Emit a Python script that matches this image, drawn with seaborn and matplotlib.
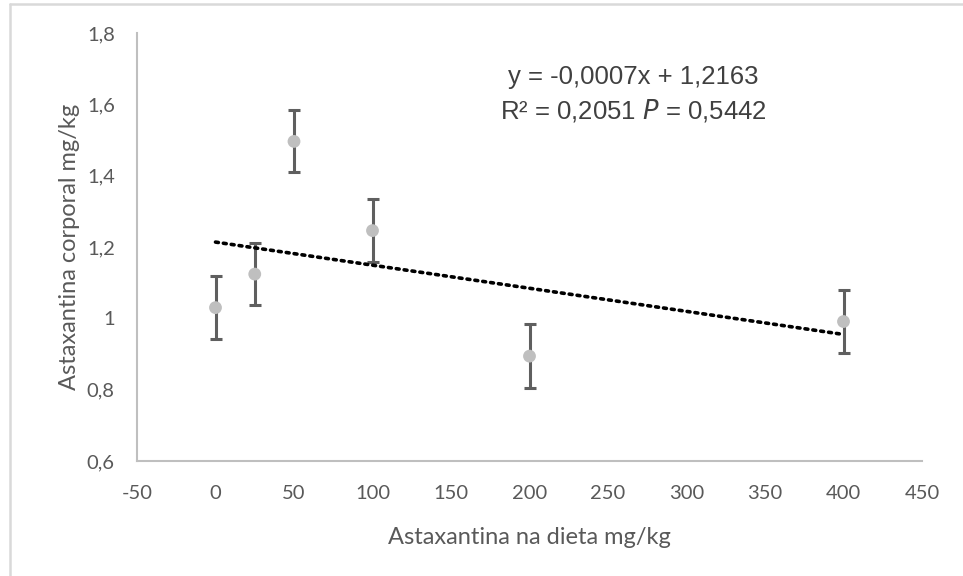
import numpy as np
import pandas as pd
import matplotlib
matplotlib.use("Agg")
import matplotlib.pyplot as plt
import seaborn as sns
from matplotlib.lines import Line2D

# data
dose = [0, 25, 50, 100, 200, 400]
astax = [1.03, 1.124, 1.496, 1.246, 0.894, 0.991]
err = [0.088, 0.087, 0.087, 0.088, 0.09, 0.088]
yticks = [0.6, 0.8, 1.0, 1.2, 1.4, 1.6, 1.8]
xticks = [-50, 0, 50, 100, 150, 200, 250, 300, 350, 400, 450]

data = pd.DataFrame({"dose": dose, "astax": astax, "err": err})

sns.set_style("white")
plt.rcParams["font.family"] = ["Lato", "DejaVu Sans"]

fig = plt.figure(figsize=(9.63, 5.76), dpi=100)
ax = fig.add_axes([137 / 963, 1 - 461 / 576, (922 - 137) / 963, (461 - 33) / 576])

ax.errorbar(data["dose"], data["astax"], yerr=data["err"], fmt="none",
            ecolor="#5f5f5f", elinewidth=2.2, capsize=4.3, capthick=2.2, zorder=2)
sns.scatterplot(data=data, x="dose", y="astax", color="#bfbfbf", s=85,
                edgecolor="none", ax=ax, zorder=3)

# linear trendline
slope, intercept = np.polyfit(data["dose"], data["astax"], 1)
xs = np.array([min(dose), max(dose)])
ax.plot(xs, slope * xs + intercept, color="black", linestyle=(0, (0.8, 1.4)),
        linewidth=2.6, dash_capstyle="round", zorder=4)

ax.set_xlim(-50, 450)
ax.set_ylim(0.6, 1.8)
ax.set_xticks(xticks)
ax.set_yticks(yticks)
ax.set_xticklabels([str(v) for v in xticks])
ax.set_yticklabels([f"{v:.1f}".replace(".", ",").replace(",0", "") for v in yticks])
ax.tick_params(axis="both", length=0, labelsize=14.5, colors="#595959")
ax.tick_params(axis="x", pad=17)
ax.tick_params(axis="y", pad=16)

for side in ["top", "right"]:
    ax.spines[side].set_visible(False)
for side in ["left", "bottom"]:
    ax.spines[side].set_color("#bfbfbf")
    ax.spines[side].set_linewidth(1.5)

ax.set_xlabel("Astaxantina na dieta mg/kg", fontsize=17, color="#595959", labelpad=18)
ax.set_ylabel("Astaxantina corporal mg/kg", fontsize=17, color="#595959", labelpad=5)

ax.text(0.658, 0.866, "y = -0,0007x + 1,2163", transform=fig.transFigure,
        ha="center", va="center", fontsize=18.5, color="#404040",
        family="Liberation Sans")
ax.text(0.658, 0.809, r"R² = 0,2051 $\it{P}$ = 0,5442", transform=fig.transFigure,
        ha="center", va="center", fontsize=18.5, color="#404040",
        family="Liberation Sans")

# outer chart frame
fig.add_artist(Line2D([10 / 963, 10 / 963], [0, 1 - 4 / 576], color="#d9d9d9", lw=1.8))
fig.add_artist(Line2D([10 / 963, 1], [1 - 4 / 576, 1 - 4 / 576], color="#d9d9d9", lw=1.8))

fig.savefig("out.png", dpi=100)
